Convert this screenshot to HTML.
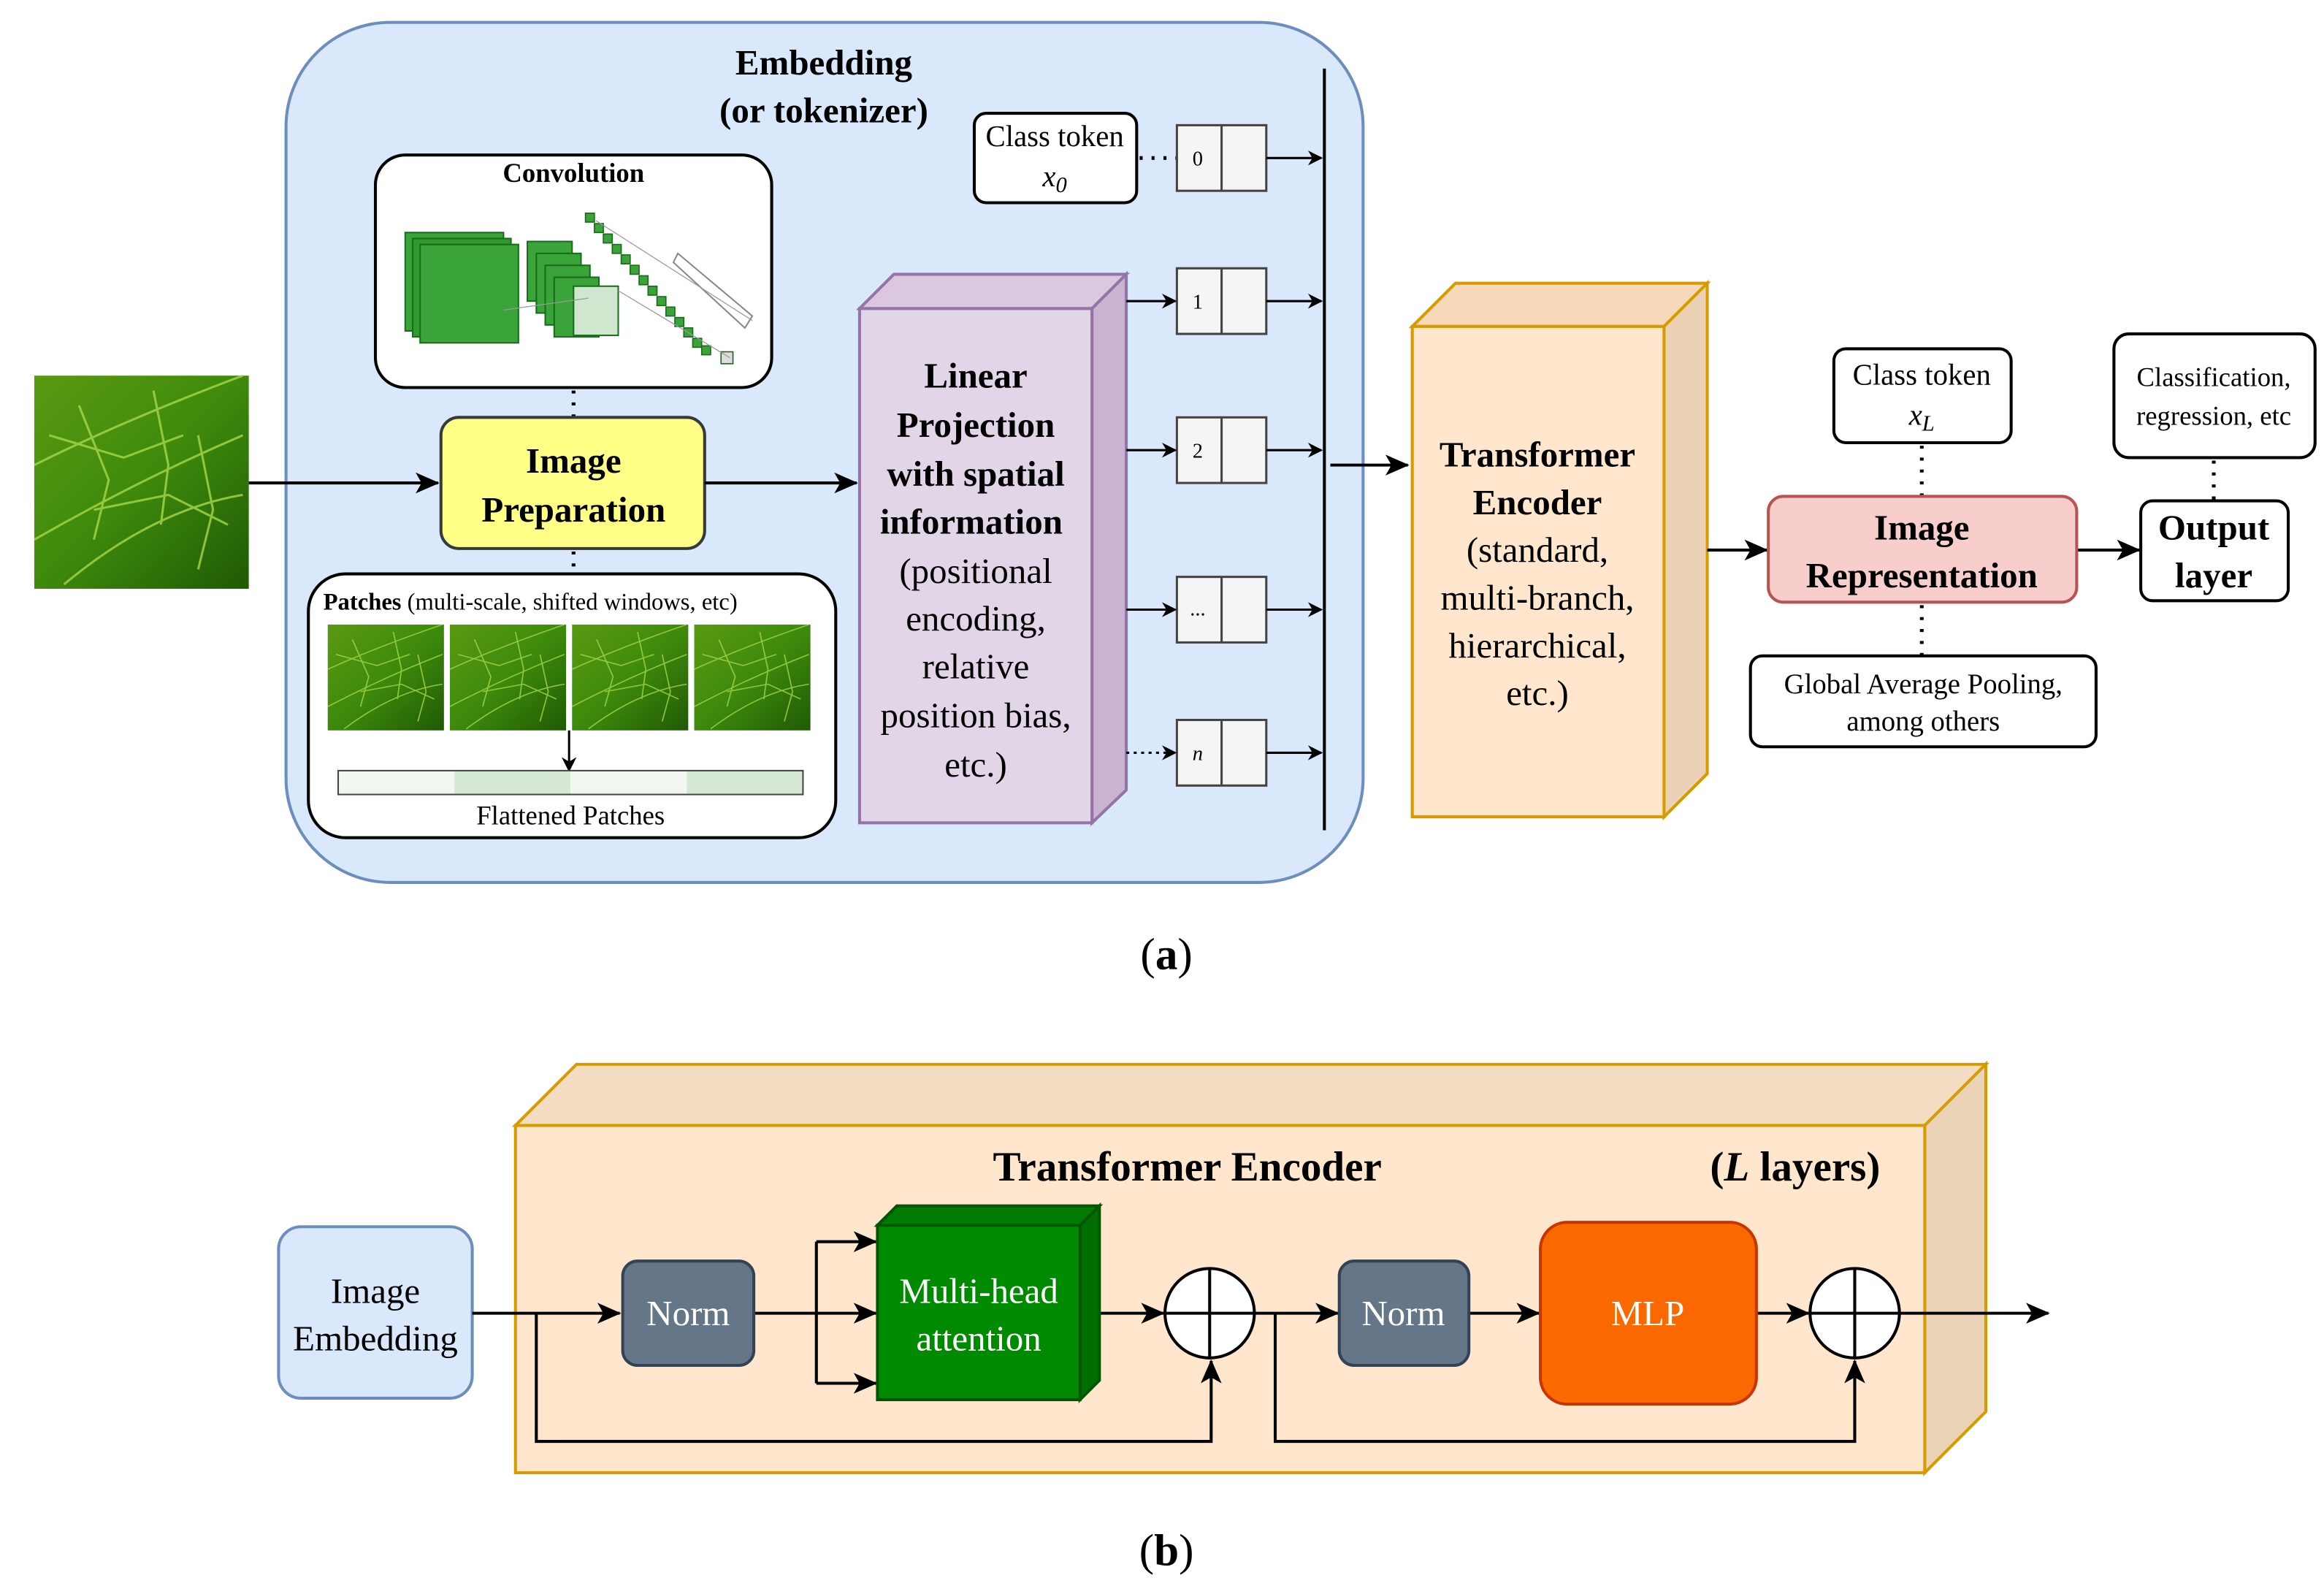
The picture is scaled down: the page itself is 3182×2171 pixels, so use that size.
<!DOCTYPE html>
<html><head><meta charset="utf-8">
<style>
html,body{margin:0;padding:0;background:#fff;}
svg{display:block;}
text{font-family:"Liberation Serif",serif;fill:#000;}
.b{font-weight:bold;}
</style></head>
<body>
<svg width="3182" height="2171" viewBox="0 0 1560 1064" preserveAspectRatio="none" xmlns="http://www.w3.org/2000/svg">
<defs>
<marker id="ar" markerWidth="10" markerHeight="10" refX="9" refY="5" orient="auto" markerUnits="userSpaceOnUse">
<path d="M0,0 L10,5 L0,10 L3,5 z" fill="#000"/></marker>
<marker id="arb" markerWidth="16" markerHeight="14" refX="15" refY="7" orient="auto" markerUnits="userSpaceOnUse">
<path d="M0,0 L16,7 L0,14 L4,7 z" fill="#000"/></marker>
<linearGradient id="leaf" x1="0" y1="0" x2="1" y2="1">
<stop offset="0" stop-color="#5a9a12"/><stop offset="0.5" stop-color="#3e8a0c"/><stop offset="1" stop-color="#1f5a05"/></linearGradient>
<g id="veins" stroke="#a8d84a" stroke-width="1.5" fill="none" opacity="0.8">
<path d="M0,60 Q60,30 140,0"/><path d="M0,110 Q70,70 140,40"/><path d="M20,140 Q80,90 140,80"/>
<path d="M30,20 L50,70 L40,110"/><path d="M80,10 L90,60 L85,100"/><path d="M110,40 L120,90 L110,130"/>
<path d="M10,40 L60,55 L100,40"/><path d="M40,90 L90,80 L130,100"/></g>
</defs>

<!-- Leaf -->
<rect x="23" y="252" width="144" height="143" fill="url(#leaf)"/>
<g transform="translate(23,252)"><use href="#veins"/></g>

<!-- Embedding box -->
<rect x="192" y="15" width="723" height="577" rx="70" fill="#dae8fc" stroke="#6c8ebf" stroke-width="2"/>
<text x="553" y="50" font-size="24" text-anchor="middle" class="b">Embedding</text>
<text x="553" y="82" font-size="24" text-anchor="middle" class="b">(or tokenizer)</text>

<!-- Convolution -->
<rect x="252" y="104" width="266" height="156" rx="20" fill="#fff" stroke="#000" stroke-width="2"/>
<text x="385" y="122" font-size="18" text-anchor="middle" class="b">Convolution</text>
<g stroke="#1a6b1a" stroke-width="1">
<rect x="272" y="156" width="66" height="66" fill="#3aa33a"/>
<rect x="277" y="160" width="66" height="66" fill="#2f9a2f"/>
<rect x="282" y="164" width="66" height="66" fill="#3aa33a"/>
<rect x="354" y="162" width="30" height="40" fill="#3aa33a"/>
<rect x="360" y="170" width="30" height="40" fill="#3aa33a"/>
<rect x="366" y="178" width="30" height="40" fill="#3aa33a"/>
<rect x="372" y="186" width="30" height="40" fill="#3aa33a"/>
<rect x="385" y="192" width="30" height="33" fill="#cfe6cf"/>
</g>
<g fill="#3aa33a" stroke="#1a6b1a" stroke-width="0.8">
<rect x="393" y="143" width="6" height="6"/><rect x="399" y="150" width="6" height="6"/><rect x="405" y="157" width="6" height="6"/>
<rect x="411" y="164" width="6" height="6"/><rect x="417" y="171" width="6" height="6"/><rect x="423" y="178" width="6" height="6"/>
<rect x="429" y="185" width="6" height="6"/><rect x="435" y="192" width="6" height="6"/><rect x="441" y="199" width="6" height="6"/>
<rect x="447" y="206" width="6" height="6"/><rect x="453" y="213" width="6" height="6"/><rect x="459" y="220" width="6" height="6"/>
<rect x="465" y="227" width="6" height="6"/><rect x="471" y="232" width="6" height="6"/><rect x="484" y="236" width="8" height="8" fill="#ddd"/>
</g>
<path d="M455,170 L505,212 L500,220 L452,176 z" fill="#fff" stroke="#888"/>
<g stroke="#999" stroke-width="0.6"><line x1="400" y1="148" x2="505" y2="215"/><line x1="415" y1="195" x2="490" y2="240"/><line x1="338" y1="208" x2="395" y2="200"/></g>

<!-- dotted connectors -->
<g stroke="#000" stroke-width="2.5" stroke-dasharray="2,6" fill="none">
<line x1="385" y1="262" x2="385" y2="280"/><line x1="385" y1="370" x2="385" y2="385"/>
<line x1="765" y1="106" x2="790" y2="106"/>
<line x1="1290" y1="299" x2="1290" y2="333"/><line x1="1290" y1="406" x2="1290" y2="440"/>
<line x1="1486" y1="309" x2="1486" y2="336"/>
</g>

<!-- Image Preparation -->
<rect x="296" y="280" width="177" height="88" rx="12" fill="#ffff88" stroke="#36393d" stroke-width="2"/>
<text x="385" y="317" font-size="24" text-anchor="middle" class="b">Image</text>
<text x="385" y="350" font-size="24" text-anchor="middle" class="b">Preparation</text>

<!-- Patches -->
<rect x="207" y="385" width="354" height="177" rx="25" fill="#fff" stroke="#000" stroke-width="2"/>
<text x="217" y="409" font-size="16"><tspan class="b">Patches</tspan> (multi-scale, shifted windows, etc)</text>
<g>
<rect x="220" y="419" width="78" height="71" fill="url(#leaf)"/>
<rect x="302" y="419" width="78" height="71" fill="url(#leaf)"/>
<rect x="384" y="419" width="78" height="71" fill="url(#leaf)"/>
<rect x="466" y="419" width="78" height="71" fill="url(#leaf)"/>
<g transform="translate(220,419) scale(0.55,0.5)"><use href="#veins"/></g>
<g transform="translate(302,419) scale(0.55,0.5)"><use href="#veins"/></g>
<g transform="translate(384,419) scale(0.55,0.5)"><use href="#veins"/></g>
<g transform="translate(466,419) scale(0.55,0.5)"><use href="#veins"/></g>
</g>
<line x1="382" y1="490" x2="382" y2="517" stroke="#000" stroke-width="1.5" marker-end="url(#ar)"/>
<rect x="227" y="517" width="78" height="16" fill="#f2f7f2"/>
<rect x="305" y="517" width="78" height="16" fill="#d5e8d4"/>
<rect x="383" y="517" width="78" height="16" fill="#f2f7f2"/>
<rect x="461" y="517" width="78" height="16" fill="#d5e8d4"/>
<rect x="227" y="517" width="312" height="16" fill="none" stroke="#444"/>
<text x="383" y="553" font-size="18" text-anchor="middle">Flattened Patches</text>

<!-- arrows main -->
<g stroke="#000" stroke-width="2" fill="none">
<line x1="167" y1="324" x2="294" y2="324" marker-end="url(#arb)"/>
<line x1="473" y1="324" x2="575" y2="324" marker-end="url(#arb)"/>
</g>

<!-- Linear Projection -->
<path d="M577,207 L600,184 L756,184 L733,207 z" fill="#d9c8e0" stroke="#9673a6" stroke-width="2"/>
<path d="M733,207 L756,184 L756,530 L733,552 z" fill="#c9b3d3" stroke="#9673a6" stroke-width="2"/>
<rect x="577" y="207" width="156" height="345" fill="#e1d5e7" stroke="#9673a6" stroke-width="2"/>
<g font-size="24" text-anchor="middle">
<text x="655" y="260" class="b">Linear</text>
<text x="655" y="293" class="b">Projection</text>
<text x="655" y="326" class="b">with spatial</text>
<text x="652" y="358" class="b">information</text>
<text x="655" y="391">(positional</text>
<text x="655" y="423">encoding,</text>
<text x="655" y="455">relative</text>
<text x="655" y="488">position bias,</text>
<text x="655" y="521">etc.)</text>
</g>

<!-- class token -->
<rect x="654" y="76" width="109" height="60" rx="8" fill="#fff" stroke="#000" stroke-width="2"/>
<text x="708" y="98" font-size="20" text-anchor="middle">Class token</text>
<text x="708" y="125" font-size="20" text-anchor="middle" font-style="italic">x<tspan font-size="15" dy="4">0</tspan></text>

<!-- tokens -->
<g stroke="#444" stroke-width="1.5" fill="#f5f5f5">
<rect x="790" y="84" width="60" height="44"/><line x1="820" y1="84" x2="820" y2="128"/>
<rect x="790" y="180" width="60" height="44"/><line x1="820" y1="180" x2="820" y2="224"/>
<rect x="790" y="280" width="60" height="44"/><line x1="820" y1="280" x2="820" y2="324"/>
<rect x="790" y="387" width="60" height="44"/><line x1="820" y1="387" x2="820" y2="431"/>
<rect x="790" y="483" width="60" height="44"/><line x1="820" y1="483" x2="820" y2="527"/>
</g>
<g font-size="14" text-anchor="middle">
<text x="804" y="111">0</text><text x="804" y="207">1</text><text x="804" y="307">2</text>
<text x="804" y="413">...</text><text x="804" y="510" font-style="italic">n</text>
</g>
<g stroke="#000" stroke-width="1.5">
<line x1="850" y1="106" x2="887" y2="106" marker-end="url(#ar)"/>
<line x1="850" y1="202" x2="887" y2="202" marker-end="url(#ar)"/>
<line x1="850" y1="302" x2="887" y2="302" marker-end="url(#ar)"/>
<line x1="850" y1="409" x2="887" y2="409" marker-end="url(#ar)"/>
<line x1="850" y1="505" x2="887" y2="505" marker-end="url(#ar)"/>
<line x1="756" y1="202" x2="789" y2="202" marker-end="url(#ar)"/>
<line x1="756" y1="302" x2="789" y2="302" marker-end="url(#ar)"/>
<line x1="756" y1="409" x2="789" y2="409" marker-end="url(#ar)"/>
<line x1="756" y1="505" x2="789" y2="505" stroke-dasharray="2,3" marker-end="url(#ar)"/>
</g>
<line x1="889" y1="46" x2="889" y2="557" stroke="#000" stroke-width="2"/>
<line x1="893" y1="312" x2="945" y2="312" stroke="#000" stroke-width="2" marker-end="url(#arb)"/>

<!-- Transformer Encoder (a) -->
<path d="M948,219 L977,190 L1146,190 L1117,219 z" fill="#f5d9b8" stroke="#d79b00" stroke-width="2"/>
<path d="M1117,219 L1146,190 L1146,519 L1117,548 z" fill="#ecd2b5" stroke="#d79b00" stroke-width="2"/>
<rect x="948" y="219" width="169" height="329" fill="#ffe6cc" stroke="#d79b00" stroke-width="2"/>
<g font-size="24" text-anchor="middle">
<text x="1032" y="313" class="b">Transformer</text>
<text x="1032" y="345" class="b">Encoder</text>
<text x="1032" y="377">(standard,</text>
<text x="1032" y="409">multi-branch,</text>
<text x="1032" y="441">hierarchical,</text>
<text x="1032" y="473">etc.)</text>
</g>

<g stroke="#000" stroke-width="2">
<line x1="1146" y1="369" x2="1186" y2="369" marker-end="url(#arb)"/>
<line x1="1394" y1="369" x2="1436" y2="369" marker-end="url(#arb)"/>
</g>
<rect x="1187" y="333" width="207" height="71" rx="10" fill="#f8cecc" stroke="#b85450" stroke-width="2"/>
<text x="1290" y="362" font-size="24" text-anchor="middle" class="b">Image</text>
<text x="1290" y="394" font-size="24" text-anchor="middle" class="b">Representation</text>

<rect x="1231" y="234" width="119" height="63" rx="8" fill="#fff" stroke="#000" stroke-width="2"/>
<text x="1290" y="258" font-size="20" text-anchor="middle">Class token</text>
<text x="1290" y="285" font-size="20" text-anchor="middle" font-style="italic">x<tspan font-size="15" dy="4">L</tspan></text>

<rect x="1175" y="440" width="232" height="61" rx="8" fill="#fff" stroke="#000" stroke-width="2"/>
<text x="1291" y="465" font-size="19" text-anchor="middle">Global Average Pooling,</text>
<text x="1291" y="490" font-size="19" text-anchor="middle">among others</text>

<rect x="1437" y="336" width="99" height="67" rx="8" fill="#fff" stroke="#000" stroke-width="2"/>
<text x="1486" y="362" font-size="24" text-anchor="middle" class="b">Output</text>
<text x="1486" y="394" font-size="24" text-anchor="middle" class="b">layer</text>

<rect x="1419" y="224" width="135" height="83" rx="10" fill="#fff" stroke="#000" stroke-width="2"/>
<text x="1486" y="259" font-size="18" text-anchor="middle">Classification,</text>
<text x="1486" y="285" font-size="18" text-anchor="middle">regression, etc</text>

<text x="783" y="650" font-size="30" text-anchor="middle">(<tspan class="b">a</tspan>)</text>

<!-- Part b -->
<path d="M346,755 L387,714 L1333,714 L1292,755 z" fill="#f2dcc2" stroke="#d79b00" stroke-width="2"/>
<path d="M1292,755 L1333,714 L1333,947 L1292,988 z" fill="#ebd3b8" stroke="#d79b00" stroke-width="2"/>
<rect x="346" y="755" width="946" height="233" fill="#ffe6cc" stroke="#d79b00" stroke-width="2"/>
<text x="797" y="792" font-size="28" text-anchor="middle" class="b">Transformer Encoder</text>
<text x="1205" y="792" font-size="28" text-anchor="middle" class="b">(<tspan font-style="italic">L</tspan> layers)</text>

<rect x="187" y="823" width="130" height="115" rx="15" fill="#dae8fc" stroke="#6c8ebf" stroke-width="2"/>
<text x="252" y="874" font-size="24" text-anchor="middle">Image</text>
<text x="252" y="906" font-size="24" text-anchor="middle">Embedding</text>

<g stroke="#000" stroke-width="2" fill="none">
<line x1="317" y1="881" x2="416" y2="881" marker-end="url(#arb)"/>
<polyline points="360,881 360,967 813,967 813,913" marker-end="url(#arb)"/>
<line x1="506" y1="881" x2="548" y2="881"/>
<line x1="548" y1="833" x2="548" y2="928"/>
<line x1="548" y1="833" x2="588" y2="833" marker-end="url(#arb)"/>
<line x1="548" y1="881" x2="588" y2="881" marker-end="url(#arb)"/>
<line x1="548" y1="928" x2="588" y2="928" marker-end="url(#arb)"/>
<line x1="738" y1="881" x2="781" y2="881" marker-end="url(#arb)"/>
<line x1="842" y1="881" x2="898" y2="881" marker-end="url(#arb)"/>
<polyline points="856,881 856,967 1245,967 1245,913" marker-end="url(#arb)"/>
<line x1="986" y1="881" x2="1033" y2="881" marker-end="url(#arb)"/>
<line x1="1179" y1="881" x2="1214" y2="881" marker-end="url(#arb)"/>
<line x1="1275" y1="881" x2="1375" y2="881" marker-end="url(#arb)"/>
</g>

<rect x="418" y="846" width="88" height="70" rx="10" fill="#647687" stroke="#314354" stroke-width="2"/>
<text x="462" y="889" font-size="24" text-anchor="middle" style="fill:#fff">Norm</text>

<path d="M589,822 L602,809 L738,809 L725,822 z" fill="#007a00" stroke="#005700" stroke-width="2"/>
<path d="M725,822 L738,809 L738,926 L725,939 z" fill="#006e00" stroke="#005700" stroke-width="2"/>
<rect x="589" y="822" width="136" height="117" fill="#008a00" stroke="#005700" stroke-width="2"/>
<text x="657" y="874" font-size="24" text-anchor="middle" style="fill:#fff">Multi-head</text>
<text x="657" y="906" font-size="24" text-anchor="middle" style="fill:#fff">attention</text>

<g stroke="#000" stroke-width="2" fill="#fff">
<circle cx="812" cy="881" r="30"/><line x1="782" y1="881" x2="842" y2="881"/><line x1="812" y1="851" x2="812" y2="911"/>
<circle cx="1245" cy="881" r="30"/><line x1="1215" y1="881" x2="1275" y2="881"/><line x1="1245" y1="851" x2="1245" y2="911"/>
</g>

<rect x="899" y="846" width="87" height="70" rx="10" fill="#647687" stroke="#314354" stroke-width="2"/>
<text x="942" y="889" font-size="24" text-anchor="middle" style="fill:#fff">Norm</text>

<rect x="1034" y="820" width="145" height="122" rx="18" fill="#fa6800" stroke="#c73500" stroke-width="2"/>
<text x="1106" y="889" font-size="24" text-anchor="middle" style="fill:#fff">MLP</text>

<text x="783" y="1050" font-size="30" text-anchor="middle">(<tspan class="b">b</tspan>)</text>
</svg>
</body></html>
